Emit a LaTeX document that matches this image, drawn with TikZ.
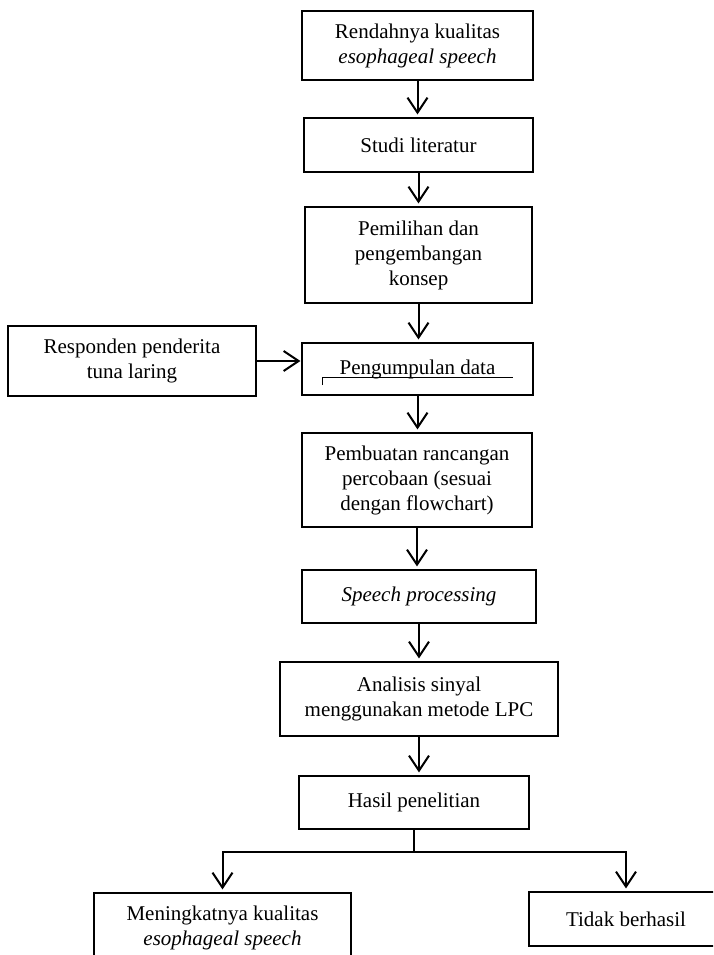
\documentclass[tikz,border=0pt]{standalone}
\usepackage{fontspec}
\setmainfont{Liberation Serif}
\usetikzlibrary{arrows.meta}

\begin{document}
\begin{tikzpicture}[x=1pt,y=-1pt,
  blok/.style={draw,line width=1.2pt,inner sep=0pt,align=center,font=\fontsize{21}{25}\selectfont},
  alur/.style={line width=2pt,-{Straight Barb[length=15pt,width=20pt]},shorten >=3pt}]
\useasboundingbox (0,0) rectangle (713,955);
\clip (0,0) rectangle (713,955);
% main column
\node[blok,minimum width=231pt,minimum height=69pt] (rendah) at (417.5,45.5) {Rendahnya kualitas\\\textit{esophageal speech}};
\node[blok,minimum width=229pt,minimum height=54pt] (studi) at (418.5,145) {Studi literatur};
\node[blok,minimum width=227pt,minimum height=96pt] (konsep) at (418.5,255) {Pemilihan dan\\pengembangan\\konsep};
\node[blok,minimum width=231pt,minimum height=52pt] (kumpul) at (417.5,369) {Pengumpulan data};
\node[blok,minimum width=230pt,minimum height=94pt] (rancang) at (417,480) {Pembuatan rancangan\\percobaan (sesuai\\dengan flowchart)};
\node[blok,minimum width=234pt,minimum height=53pt] (speech) at (419,596.5) {\textit{Speech processing}};
\node[blok,minimum width=278pt,minimum height=74pt] (analisis) at (419,699) {Analisis sinyal\\menggunakan metode LPC};
\node[blok,minimum width=230pt,minimum height=53pt] (hasil) at (414,802.5) {Hasil penelitian};
% side input
\node[blok,minimum width=248pt,minimum height=70pt] (resp) at (132,361) {Responden penderita\\tuna laring};
% outcomes
\node[blok,minimum width=257pt,minimum height=70pt] (mening) at (222.5,928) {Meningkatnya kualitas\\\textit{esophageal speech}};
\node[blok,minimum width=194pt,minimum height=54pt] (tidak) at (626,919) {Tidak berhasil};
% stray line inside the data box
\draw[line width=1pt] (322,385) -- (322,377) -- (513,377);
% arrows down the column
\foreach \a/\b in {rendah/studi,studi/konsep,konsep/kumpul,kumpul/rancang,rancang/speech,speech/analisis,analisis/hasil}{
  \draw[alur] (\a.south) -- (\a.south |- \b.north);
}
\draw[alur,shorten >=1pt] (resp.east) -- (resp.east -| kumpul.west);
% split into the two results
\coordinate (cabang) at (414,852);
\draw[line width=1.5pt] (hasil.south) -- (cabang);
\draw[alur] (cabang) -| (mening.north);
\draw[alur] (cabang) -| (tidak.north);
\end{tikzpicture}
\end{document}
